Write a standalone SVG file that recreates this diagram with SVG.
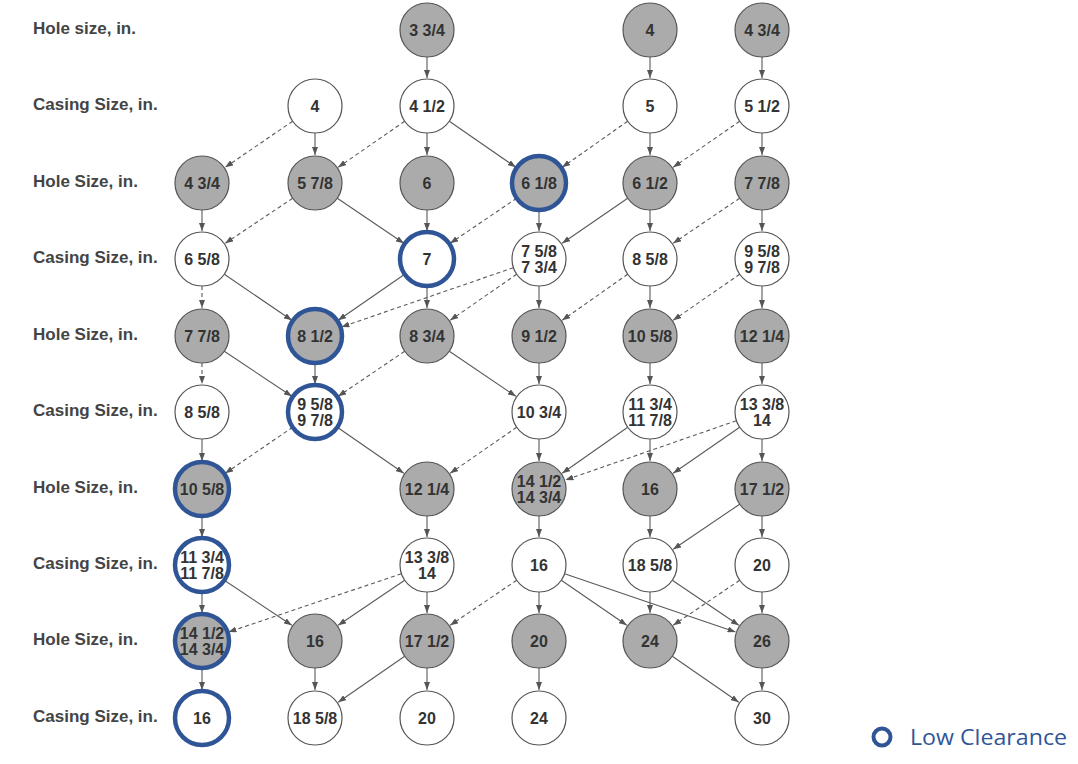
<svg xmlns="http://www.w3.org/2000/svg" width="1078" height="764" viewBox="0 0 1078 764">
<style>
.bg{fill:#ffffff}
.lbl{font-family:"Liberation Sans",Arial,sans-serif;font-weight:bold;font-size:17px;fill:#444}
.node circle{stroke:#555;stroke-width:1.2}
.hole circle{fill:#ababab}
.csg circle{fill:#ffffff}
.node circle.lc{stroke:#2F5597;stroke-width:4.5}
.node text{font-family:"Liberation Sans",Arial,sans-serif;font-weight:bold;font-size:16px;fill:#333;text-anchor:middle}
.e line{stroke:#5a5a5a;stroke-width:1.1;fill:none;marker-end:url(#ah)}
.e line.d{stroke-dasharray:4 3}
.leg{font-family:"Open Sans","Noto Sans",sans-serif;font-size:21px;fill:#2F5597}
</style>
<defs>
<marker id="ah" markerWidth="8" markerHeight="6" refX="8" refY="3" orient="auto" markerUnits="userSpaceOnUse">
<path d="M0,0 L8,3 L0,6 z" fill="#555"/>
</marker>
</defs>
<rect class="bg" x="0" y="0" width="1078" height="764"/>
<g id="row-labels">
<text class="lbl" x="33" y="34">Hole size, in.</text>
<text class="lbl" x="33" y="110">Casing Size, in.</text>
<text class="lbl" x="33" y="187">Hole Size, in.</text>
<text class="lbl" x="33" y="263">Casing Size, in.</text>
<text class="lbl" x="33" y="340">Hole Size, in.</text>
<text class="lbl" x="33" y="416">Casing Size, in.</text>
<text class="lbl" x="33" y="493">Hole Size, in.</text>
<text class="lbl" x="33" y="569">Casing Size, in.</text>
<text class="lbl" x="33" y="645">Hole Size, in.</text>
<text class="lbl" x="33" y="722">Casing Size, in.</text>
</g>
<g id="connectors" class="e">
<!-- row0 -> row1 -->
<line x1="427" y1="57" x2="427" y2="78"/>
<line x1="650" y1="57" x2="650" y2="78"/>
<line x1="762" y1="57" x2="762" y2="78"/>
<!-- row1 -> row2 -->
<line class="d" x1="292.7" y1="121.2" x2="225.2" y2="167.3"/>
<line x1="315" y1="133" x2="315" y2="155"/>
<line class="d" x1="404.7" y1="121.2" x2="338.2" y2="167.3"/>
<line x1="427" y1="133" x2="427" y2="155"/>
<line x1="449.3" y1="121.2" x2="515.8" y2="167.3"/>
<line class="d" x1="627.7" y1="121.2" x2="562.2" y2="167.3"/>
<line x1="650" y1="133" x2="650" y2="155"/>
<line class="d" x1="739.7" y1="121.2" x2="673.2" y2="167.3"/>
<line x1="762" y1="133" x2="762" y2="155"/>
<!-- row2 -> row3 -->
<line x1="202" y1="210" x2="202" y2="231"/>
<line class="d" x1="292.7" y1="198.2" x2="225.2" y2="243.3"/>
<line x1="337.3" y1="198.2" x2="403.8" y2="243.3"/>
<line x1="427" y1="210" x2="427" y2="231"/>
<line class="d" x1="516.7" y1="198.2" x2="450.2" y2="243.3"/>
<line x1="539" y1="210" x2="539" y2="231"/>
<line x1="627.7" y1="198.2" x2="562.2" y2="243.3"/>
<line x1="650" y1="210" x2="650" y2="231"/>
<line class="d" x1="739.7" y1="198.2" x2="673.2" y2="243.3"/>
<line x1="762" y1="210" x2="762" y2="231"/>
<!-- row3 -> row4 -->
<line class="d" x1="202" y1="286" x2="202" y2="308"/>
<line x1="224.3" y1="274.2" x2="291.8" y2="320.3"/>
<line x1="404.7" y1="274.2" x2="338.2" y2="320.3"/>
<line class="d" x1="513.4" y1="267.7" x2="341.5" y2="327"/>
<line class="d" x1="516.7" y1="274.2" x2="450.2" y2="320.3"/>
<line x1="427" y1="286" x2="427" y2="308"/>
<line x1="539" y1="286" x2="539" y2="308"/>
<line class="d" x1="627.7" y1="274.2" x2="562.2" y2="320.3"/>
<line x1="650" y1="286" x2="650" y2="308"/>
<line class="d" x1="739.7" y1="274.2" x2="673.2" y2="320.3"/>
<line x1="762" y1="286" x2="762" y2="308"/>
<!-- row4 -> row5 -->
<line class="d" x1="202" y1="363" x2="202" y2="384"/>
<line x1="224.3" y1="351.2" x2="291.8" y2="396.3"/>
<line x1="315" y1="363" x2="315" y2="384"/>
<line class="d" x1="404.7" y1="351.2" x2="338.2" y2="396.3"/>
<line x1="449.3" y1="351.2" x2="515.8" y2="396.3"/>
<line x1="539" y1="363" x2="539" y2="384"/>
<line x1="650" y1="363" x2="650" y2="384"/>
<line x1="762" y1="363" x2="762" y2="384"/>
<!-- row5 -> row6 -->
<line x1="202" y1="439" x2="202" y2="461"/>
<line class="d" x1="292.7" y1="427.2" x2="225.2" y2="473.3"/>
<line x1="337.3" y1="427.2" x2="403.8" y2="473.3"/>
<line class="d" x1="516.7" y1="427.2" x2="450.2" y2="473.3"/>
<line x1="539" y1="439" x2="539" y2="461"/>
<line x1="627.7" y1="427.2" x2="562.2" y2="473.3"/>
<line x1="650" y1="439" x2="650" y2="461"/>
<line class="d" x1="736.4" y1="420.7" x2="565.5" y2="480"/>
<line x1="739.7" y1="427.2" x2="673.2" y2="473.3"/>
<line x1="762" y1="439" x2="762" y2="461"/>
<!-- row6 -> row7 -->
<line x1="202" y1="516" x2="202" y2="537"/>
<line x1="427" y1="516" x2="427" y2="537"/>
<line x1="539" y1="516" x2="539" y2="537"/>
<line x1="650" y1="516" x2="650" y2="537"/>
<line x1="739.7" y1="504.2" x2="673.2" y2="549.3"/>
<line x1="762" y1="516" x2="762" y2="537"/>
<!-- row7 -> row8 -->
<line x1="202" y1="592" x2="202" y2="613"/>
<line x1="224.3" y1="580.2" x2="291.8" y2="625.3"/>
<line class="d" x1="401.4" y1="573.7" x2="228.5" y2="632"/>
<line x1="404.7" y1="580.2" x2="338.2" y2="625.3"/>
<line x1="427" y1="592" x2="427" y2="613"/>
<line class="d" x1="516.7" y1="580.2" x2="450.2" y2="625.3"/>
<line x1="539" y1="592" x2="539" y2="613"/>
<line x1="561.3" y1="580.2" x2="626.8" y2="625.3"/>
<line x1="564.6" y1="573.7" x2="735.5" y2="632"/>
<line x1="650" y1="592" x2="650" y2="613"/>
<line x1="672.3" y1="580.2" x2="738.8" y2="625.3"/>
<line class="d" x1="739.7" y1="580.2" x2="673.2" y2="625.3"/>
<line x1="762" y1="592" x2="762" y2="613"/>
<!-- row8 -> row9 -->
<line x1="202" y1="668" x2="202" y2="690"/>
<line x1="315" y1="668" x2="315" y2="690"/>
<line x1="404.7" y1="656.2" x2="338.2" y2="702.3"/>
<line x1="427" y1="668" x2="427" y2="690"/>
<line x1="539" y1="668" x2="539" y2="690"/>
<line x1="672.3" y1="656.2" x2="738.8" y2="702.3"/>
<line x1="762" y1="668" x2="762" y2="690"/>
</g>
<!-- row 0 -->
<g id="n0-2" class="node hole"><circle cx="427" cy="30" r="27"/><text x="427" y="36">3 3/4</text></g>
<g id="n0-4" class="node hole"><circle cx="650" cy="30" r="27"/><text x="650" y="36">4</text></g>
<g id="n0-5" class="node hole"><circle cx="762" cy="30" r="27"/><text x="762" y="36">4 3/4</text></g>
<!-- row 1 -->
<g id="n1-1" class="node csg"><circle cx="315" cy="106" r="27"/><text x="315" y="112">4</text></g>
<g id="n1-2" class="node csg"><circle cx="427" cy="106" r="27"/><text x="427" y="112">4 1/2</text></g>
<g id="n1-4" class="node csg"><circle cx="650" cy="106" r="27"/><text x="650" y="112">5</text></g>
<g id="n1-5" class="node csg"><circle cx="762" cy="106" r="27"/><text x="762" y="112">5 1/2</text></g>
<!-- row 2 -->
<g id="n2-0" class="node hole"><circle cx="202" cy="183" r="27"/><text x="202" y="189">4 3/4</text></g>
<g id="n2-1" class="node hole"><circle cx="315" cy="183" r="27"/><text x="315" y="189">5 7/8</text></g>
<g id="n2-2" class="node hole"><circle cx="427" cy="183" r="27"/><text x="427" y="189">6</text></g>
<g id="n2-3" class="node hole"><circle class="lc" cx="539" cy="183" r="27"/><text x="539" y="189">6 1/8</text></g>
<g id="n2-4" class="node hole"><circle cx="650" cy="183" r="27"/><text x="650" y="189">6 1/2</text></g>
<g id="n2-5" class="node hole"><circle cx="762" cy="183" r="27"/><text x="762" y="189">7 7/8</text></g>
<!-- row 3 -->
<g id="n3-0" class="node csg"><circle cx="202" cy="259" r="27"/><text x="202" y="265">6 5/8</text></g>
<g id="n3-2" class="node csg"><circle class="lc" cx="427" cy="259" r="27"/><text x="427" y="265">7</text></g>
<g id="n3-3" class="node csg"><circle cx="539" cy="259" r="27"/><text x="539" y="257">7 5/8</text><text x="539" y="273">7 3/4</text></g>
<g id="n3-4" class="node csg"><circle cx="650" cy="259" r="27"/><text x="650" y="265">8 5/8</text></g>
<g id="n3-5" class="node csg"><circle cx="762" cy="259" r="27"/><text x="762" y="257">9 5/8</text><text x="762" y="273">9 7/8</text></g>
<!-- row 4 -->
<g id="n4-0" class="node hole"><circle cx="202" cy="336" r="27"/><text x="202" y="342">7 7/8</text></g>
<g id="n4-1" class="node hole"><circle class="lc" cx="315" cy="336" r="27"/><text x="315" y="342">8 1/2</text></g>
<g id="n4-2" class="node hole"><circle cx="427" cy="336" r="27"/><text x="427" y="342">8 3/4</text></g>
<g id="n4-3" class="node hole"><circle cx="539" cy="336" r="27"/><text x="539" y="342">9 1/2</text></g>
<g id="n4-4" class="node hole"><circle cx="650" cy="336" r="27"/><text x="650" y="342">10 5/8</text></g>
<g id="n4-5" class="node hole"><circle cx="762" cy="336" r="27"/><text x="762" y="342">12 1/4</text></g>
<!-- row 5 -->
<g id="n5-0" class="node csg"><circle cx="202" cy="412" r="27"/><text x="202" y="418">8 5/8</text></g>
<g id="n5-1" class="node csg"><circle class="lc" cx="315" cy="412" r="27"/><text x="315" y="410">9 5/8</text><text x="315" y="426">9 7/8</text></g>
<g id="n5-3" class="node csg"><circle cx="539" cy="412" r="27"/><text x="539" y="418">10 3/4</text></g>
<g id="n5-4" class="node csg"><circle cx="650" cy="412" r="27"/><text x="650" y="410">11 3/4</text><text x="650" y="426">11 7/8</text></g>
<g id="n5-5" class="node csg"><circle cx="762" cy="412" r="27"/><text x="762" y="410">13 3/8</text><text x="762" y="426">14</text></g>
<!-- row 6 -->
<g id="n6-0" class="node hole"><circle class="lc" cx="202" cy="489" r="27"/><text x="202" y="495">10 5/8</text></g>
<g id="n6-2" class="node hole"><circle cx="427" cy="489" r="27"/><text x="427" y="495">12 1/4</text></g>
<g id="n6-3" class="node hole"><circle cx="539" cy="489" r="27"/><text x="539" y="487">14 1/2</text><text x="539" y="503">14 3/4</text></g>
<g id="n6-4" class="node hole"><circle cx="650" cy="489" r="27"/><text x="650" y="495">16</text></g>
<g id="n6-5" class="node hole"><circle cx="762" cy="489" r="27"/><text x="762" y="495">17 1/2</text></g>
<!-- row 7 -->
<g id="n7-0" class="node csg"><circle class="lc" cx="202" cy="565" r="27"/><text x="202" y="563">11 3/4</text><text x="202" y="579">11 7/8</text></g>
<g id="n7-2" class="node csg"><circle cx="427" cy="565" r="27"/><text x="427" y="563">13 3/8</text><text x="427" y="579">14</text></g>
<g id="n7-3" class="node csg"><circle cx="539" cy="565" r="27"/><text x="539" y="571">16</text></g>
<g id="n7-4" class="node csg"><circle cx="650" cy="565" r="27"/><text x="650" y="571">18 5/8</text></g>
<g id="n7-5" class="node csg"><circle cx="762" cy="565" r="27"/><text x="762" y="571">20</text></g>
<!-- row 8 -->
<g id="n8-0" class="node hole"><circle class="lc" cx="202" cy="641" r="27"/><text x="202" y="639">14 1/2</text><text x="202" y="655">14 3/4</text></g>
<g id="n8-1" class="node hole"><circle cx="315" cy="641" r="27"/><text x="315" y="647">16</text></g>
<g id="n8-2" class="node hole"><circle cx="427" cy="641" r="27"/><text x="427" y="647">17 1/2</text></g>
<g id="n8-3" class="node hole"><circle cx="539" cy="641" r="27"/><text x="539" y="647">20</text></g>
<g id="n8-4" class="node hole"><circle cx="650" cy="641" r="27"/><text x="650" y="647">24</text></g>
<g id="n8-5" class="node hole"><circle cx="762" cy="641" r="27"/><text x="762" y="647">26</text></g>
<!-- row 9 -->
<g id="n9-0" class="node csg"><circle class="lc" cx="202" cy="718" r="27"/><text x="202" y="724">16</text></g>
<g id="n9-1" class="node csg"><circle cx="315" cy="718" r="27"/><text x="315" y="724">18 5/8</text></g>
<g id="n9-2" class="node csg"><circle cx="427" cy="718" r="27"/><text x="427" y="724">20</text></g>
<g id="n9-3" class="node csg"><circle cx="539" cy="718" r="27"/><text x="539" y="724">24</text></g>
<g id="n9-5" class="node csg"><circle cx="762" cy="718" r="27"/><text x="762" y="724">30</text></g>
<g id="legend">
<circle cx="882" cy="737" r="8.5" fill="none" stroke="#2F5597" stroke-width="4"/>
<text class="leg" x="910" y="745" textLength="157" lengthAdjust="spacingAndGlyphs">Low Clearance</text>
</g>
</svg>
